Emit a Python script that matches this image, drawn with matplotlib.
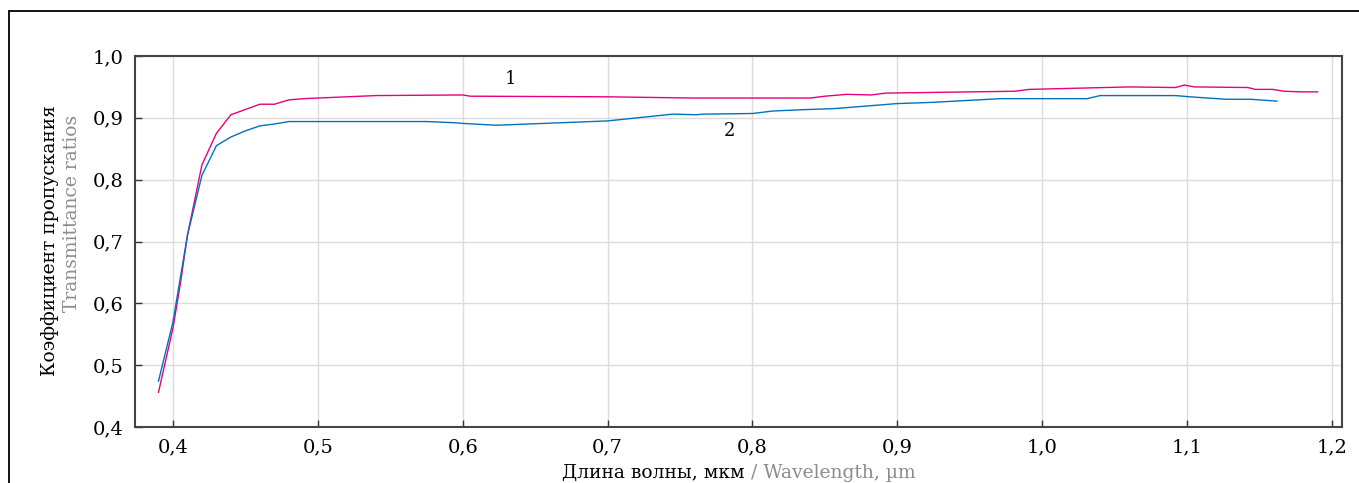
import matplotlib
matplotlib.use("Agg")
from matplotlib import pyplot as plt
from matplotlib.ticker import FuncFormatter, MultipleLocator
from matplotlib.patches import Rectangle

# curve 1 (magenta)
wl_1 = [0.39, 0.40, 0.405, 0.41, 0.42, 0.43, 0.44, 0.46, 0.47, 0.48, 0.49, 0.50,
        0.54, 0.60, 0.605, 0.70, 0.76, 0.84, 0.85, 0.865, 0.882, 0.892, 0.981,
        0.991, 1.06, 1.092, 1.098, 1.105, 1.142, 1.147, 1.159, 1.167, 1.179, 1.19]
tr_1 = [0.456, 0.560, 0.630, 0.710, 0.824, 0.875, 0.905, 0.922, 0.922, 0.929, 0.931, 0.932,
        0.936, 0.937, 0.935, 0.934, 0.932, 0.932, 0.935, 0.938, 0.937, 0.940, 0.943,
        0.946, 0.950, 0.949, 0.953, 0.950, 0.949, 0.946, 0.946, 0.943, 0.942, 0.942]

# curve 2 (blue)
wl_2 = [0.39, 0.40, 0.405, 0.41, 0.42, 0.43, 0.44, 0.45, 0.46, 0.47, 0.48, 0.50,
        0.575, 0.595, 0.60, 0.623, 0.70, 0.745, 0.761, 0.766, 0.80, 0.814, 0.833,
        0.857, 0.8995, 0.924, 0.971, 1.031, 1.040, 1.092, 1.102, 1.127, 1.144, 1.162]
tr_2 = [0.474, 0.570, 0.640, 0.710, 0.807, 0.855, 0.869, 0.879, 0.887, 0.890, 0.894, 0.894,
        0.894, 0.892, 0.891, 0.888, 0.895, 0.906, 0.905, 0.906, 0.907, 0.911, 0.913,
        0.915, 0.923, 0.925, 0.931, 0.931, 0.936, 0.936, 0.934, 0.930, 0.930, 0.927]

W, H = 1359, 483
fig = plt.figure(figsize=(W / 100, H / 100), dpi=100)
plt.rcParams['font.family'] = ['DejaVu Serif']

# frame around the figure
fig.patches.append(Rectangle((9 / W, -0.1), 1.2, 1.1 - 11 / H, transform=fig.transFigure,
                             fill=False, edgecolor='black', linewidth=1.3))

ax = fig.add_axes([135 / W, 1 - 427 / H, (1342 - 135) / W, (427 - 56) / H])
ax.plot(wl_1, tr_1, color='#e6007e', linewidth=1.0)
ax.plot(wl_2, tr_2, color='#0072bc', linewidth=1.0)

ax.set_xlim(0.3738, 1.2069)
ax.set_ylim(0.4, 1.0)
ax.xaxis.set_major_locator(MultipleLocator(0.1))
ax.yaxis.set_major_locator(MultipleLocator(0.1))
fmt = FuncFormatter(lambda v, p: f"{v:.1f}".replace('.', ','))
ax.xaxis.set_major_formatter(fmt)
ax.yaxis.set_major_formatter(fmt)
ax.grid(True, color='#dcdcdc', linewidth=1.0)
ax.set_axisbelow(True)
ax.tick_params(direction='in', length=5, width=1, color='#333333',
               labelsize=14, pad=8)
for s in ax.spines.values():
    s.set_color('#444444')
    s.set_linewidth(1.5)

ax.text(0.633, 0.963, '1', fontsize=13, ha='center', va='center')
ax.text(0.784, 0.879, '2', fontsize=13, ha='center', va='center')

# axis titles, russian in black and english in gray
fig.text(50 / W, 1 - 241 / H, 'Коэффициент пропускания', rotation=90,
         ha='center', va='center', fontsize=13.5, color='black')
fig.text(72 / W, 1 - 213 / H, 'Transmittance ratios', rotation=90,
         ha='center', va='center', fontsize=13.5, color='#8c8c8c')
fig.text(745 / W, 1 - 478 / H, 'Длина волны, мкм', ha='right', va='baseline',
         fontsize=13.5, color='black')
fig.text(751 / W, 1 - 478 / H, '/ Wavelength, µm', ha='left', va='baseline',
         fontsize=13.5, color='#8c8c8c')

fig.savefig('out.png', dpi=100)
